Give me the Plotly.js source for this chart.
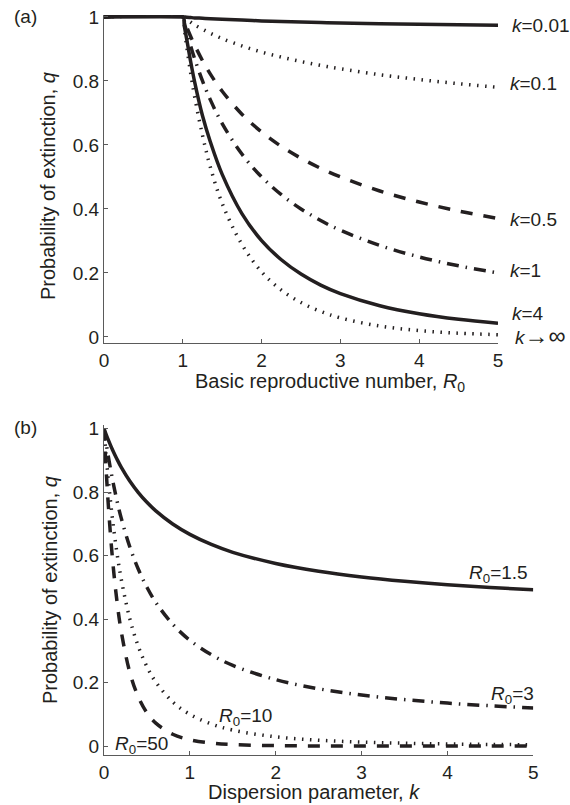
<!DOCTYPE html>
<html>
<head>
<meta charset="utf-8">
<script src="https://cdn.plot.ly/plotly-3.0.1.min.js"></script>
<style>html,body{margin:0;padding:0;background:#fff;}#chart{width:570px;height:805px;}</style>
</head>
<body>
<div id="chart"></div>
<script>
// ---------- Panel (a): q vs R0 ----------
var R0vals = [0, 1, 1.02, 1.05, 1.1, 1.15, 1.25, 1.35, 1.5, 1.75, 2, 2.25, 2.5, 2.75, 3, 3.5, 4, 4.5, 5];
var qK001 = [1, 1, 0.9997, 0.9992, 0.9981, 0.9970, 0.9958, 0.9944, 0.9925, 0.9900, 0.9876, 0.9857, 0.9841, 0.9826, 0.9813, 0.9790, 0.9770, 0.9754, 0.9739];
var qK01  = [1, 1, 0.9968, 0.9916, 0.9833, 0.9750, 0.9615, 0.9489, 0.9323, 0.9094, 0.8902, 0.8744, 0.8607, 0.8486, 0.8379, 0.8194, 0.8044, 0.7913, 0.7800];
var qK05  = [1, 1, 0.9869, 0.9681, 0.9388, 0.9117, 0.8633, 0.8213, 0.7676, 0.6961, 0.6404, 0.5954, 0.5583, 0.5269, 0.5000, 0.4561, 0.4215, 0.3935, 0.3702];
var qK1   = [1, 1, 0.9804, 0.9524, 0.9091, 0.8696, 0.8000, 0.7407, 0.6667, 0.5714, 0.5000, 0.4444, 0.4000, 0.3636, 0.3333, 0.2857, 0.2500, 0.2222, 0.2000];
var qK4   = [1, 1, 0.9700, 0.9300, 0.8600, 0.7970, 0.6910, 0.6093, 0.5080, 0.3855, 0.3010, 0.2412, 0.1965, 0.1620, 0.1354, 0.0976, 0.0725, 0.0552, 0.0430];
var qKinf = [1, 1, 0.9620, 0.9070, 0.8240, 0.7509, 0.6300, 0.5305, 0.4172, 0.2890, 0.2032, 0.1466, 0.1074, 0.0796, 0.0595, 0.0340, 0.0198, 0.0117, 0.0070];

// ---------- Panel (b): q vs k ----------
var kvals = [0, 0.01, 0.02, 0.05, 0.1, 0.15, 0.2, 0.3, 0.4, 0.5, 0.6, 0.8, 1, 1.25, 1.5, 2, 2.5, 3, 3.5, 4, 4.5, 5];
var qR15 = [1, 0.9925, 0.9850, 0.9641, 0.9323, 0.9041, 0.8785, 0.8347, 0.7983, 0.7676, 0.7414, 0.6993, 0.6667, 0.6350, 0.6102, 0.5750, 0.5504, 0.5326, 0.5190, 0.5080, 0.4993, 0.4920];
var qR3  = [1, 0.9813, 0.9632, 0.9124, 0.8379, 0.7740, 0.7185, 0.6277, 0.5567, 0.5000, 0.4537, 0.3838, 0.3333, 0.2876, 0.2542, 0.2092, 0.1805, 0.1607, 0.1464, 0.1354, 0.1270, 0.1200];
var qR10 = [1, 0.9647, 0.9311, 0.8395, 0.7122, 0.6099, 0.5268, 0.4015, 0.3136, 0.2500, 0.2028, 0.1392, 0.1000, 0.0695, 0.0504, 0.0292, 0.0186, 0.0127, 0.0091, 0.0068, 0.0053, 0.0042];
var qR50 = [1, 0.9455, 0.8944, 0.7602, 0.5865, 0.4583, 0.3622, 0.2328, 0.1544, 0.1051, 0.0731, 0.0372, 0.0200, 0.0097, 0.0050, 0.0015, 0.0005, 0.0002, 0.0001, 0.0001, 0, 0];

var xTickVals = [0, 1, 2, 3, 4, 5];
var xTickText = ['0', '1', '2', '3', '4', '5'];
var yTickVals = [0, 0.2, 0.4, 0.6, 0.8, 1];
var yTickText = ['0', '0.2', '0.4', '0.6', '0.8', '1'];

var W = 570, H = 805;
var INK = '#231f20';
var AX = '#5a5a5a';
var FONT = 'Liberation Sans, Arial, Helvetica, sans-serif';
function px(x) { return x / W; }
function py(y) { return 1 - y / H; }

var SOLID = 'solid';
var DOT = '1.5px,6.5px';
var DASH = '12px,11px';
var DASHDOT = '12px,7px,1.5px,7px';

function tr(x, y, dash, xa, ya, w) {
  return {x: x, y: y, type: 'scatter', mode: 'lines', xaxis: xa, yaxis: ya,
          line: {color: INK, width: w || 3.5, dash: dash, shape: 'spline', smoothing: 1},
          hoverinfo: 'skip', showlegend: false};
}

var data = [
  tr(R0vals, qKinf, DOT, 'x', 'y', 3.5),
  tr(R0vals, qK4, SOLID, 'x', 'y'),
  tr(R0vals, qK1, DASHDOT, 'x', 'y'),
  tr(R0vals, qK05, DASH, 'x', 'y'),
  tr(R0vals, qK01, DOT, 'x', 'y', 3.5),
  tr(R0vals, qK001, SOLID, 'x', 'y'),
  tr(kvals, qR10, DOT, 'x2', 'y2', 3.5),
  tr(kvals, qR50, DASH, 'x2', 'y2'),
  tr(kvals, qR3, DASHDOT, 'x2', 'y2'),
  tr(kvals, qR15, SOLID, 'x2', 'y2')
];

function axis(extra) {
  var a = {showline: true, linecolor: AX, linewidth: 1, ticks: 'inside', ticklen: 4,
           tickcolor: AX, tickwidth: 1, showgrid: false, zeroline: false,
           tickfont: {family: FONT, size: 19, color: INK}, fixedrange: true};
  for (var k in extra) a[k] = extra[k];
  return a;
}

function plab(text, x, y, anchor, angle, size) {
  return {text: text, x: px(x), y: py(y), xref: 'paper', yref: 'paper', xanchor: anchor || 'center',
          yanchor: 'middle', showarrow: false, textangle: angle || 0,
          font: {family: FONT, size: size || 19, color: INK}};
}

var layout = {
  width: W, height: H,
  margin: {l: 0, r: 0, t: 0, b: 0},
  paper_bgcolor: '#fff', plot_bgcolor: '#fff',
  showlegend: false,
  xaxis: axis({domain: [px(104), px(498)], range: [0, 5], anchor: 'y', tickvals: xTickVals, ticktext: xTickText}),
  yaxis: axis({domain: [py(343), py(15)], range: [-0.019, 1.006], anchor: 'x', tickvals: yTickVals, ticktext: yTickText}),
  xaxis2: axis({domain: [px(104), px(533.3)], range: [0, 5], anchor: 'y2', tickvals: xTickVals, ticktext: xTickText}),
  yaxis2: axis({domain: [py(755), py(425)], range: [-0.028, 1.011], anchor: 'x2', tickvals: yTickVals, ticktext: yTickText}),
  annotations: [
    plab('<i>k</i>=0.01', 510, 26, 'left'),
    plab('<i>k</i>=0.1', 508, 84, 'left'),
    plab('<i>k</i>=0.5', 508, 219, 'left'),
    plab('<i>k</i>=1', 508, 270, 'left'),
    plab('<i>k</i>=4', 510, 314, 'left'),
    plab('<i>k</i><span style="font-size:24px">\u2192\u221e</span>', 513, 335, 'left'),
    plab('<i>R</i><sub>0</sub>=1.5', 466.7, 574, 'left'),
    plab('<i>R</i><sub>0</sub>=3', 489, 695, 'left'),
    plab('<i>R</i><sub>0</sub>=10', 216.7, 717, 'left'),
    plab('<i>R</i><sub>0</sub>=50', 112.7, 745, 'left'),
    plab('(a)', 25, 17),
    plab('(b)', 25, 427),
    plab('Basic reproductive number, <i>R</i><sub>0</sub>', 330, 382, 'center', 0, 20),
    plab('Dispersion parameter, <i>k</i>', 313.5, 792, 'center', 0, 20),
    plab('Probability of extinction, <i>q</i>', 48, 186, 'center', -90, 20),
    plab('Probability of extinction, <i>q</i>', 50, 590, 'center', -90, 20)
  ]
};

Plotly.newPlot('chart', data, layout, {staticPlot: true, displayModeBar: false});
</script>
</body>
</html>
